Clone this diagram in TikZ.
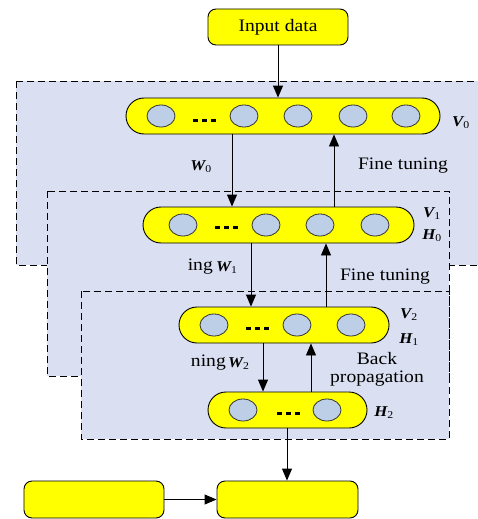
\documentclass[tikz,border=0pt]{standalone}
\usepackage{fontspec}
\setmainfont{Liberation Serif}[FakeStretch=1.12]
\usetikzlibrary{arrows.meta,shapes.geometric}
\definecolor{panel}{HTML}{DAE0F2}
\definecolor{unitfill}{HTML}{BCCFE6}
\definecolor{layerfill}{HTML}{FFFF00}
\tikzset{
  panelbox/.style={draw=black, dash pattern=on 7pt off 4pt, fill=panel, line width=0.8pt},
  pill/.style={draw=black, fill=layerfill, line width=0.9pt, rounded corners=18pt, minimum height=36pt, inner sep=0pt},
  unit/.style={ellipse, draw=black!80, fill=unitfill, line width=0.8pt, minimum width=28pt, minimum height=22pt, inner sep=0pt},
  ellip/.style={line width=2.6pt, dash pattern=on 5pt off 4pt},
  arr/.style={-{Triangle[length=12pt,width=10pt]}, line width=0.9pt},
  lbl/.style={font=\fontsize{17.5}{19}\selectfont, inner sep=0pt},
  sym/.style={font=\fontsize{15}{16}\selectfont\bfseries\itshape, inner sep=0pt},
  blockbox/.style={draw=black, fill=layerfill, line width=0.9pt, rounded corners=8pt, inner sep=0pt}
}
\newcommand{\lsub}[2]{#1\textsubscript{\upshape\mdseries #2}}
\begin{document}
\begin{tikzpicture}[x=1pt,y=-1pt]
\useasboundingbox (0,0) rectangle (478,519);
\begin{scope}
\clip (0,0) rectangle (478,519);
% nested training panels
\draw[panelbox] (16,81) rectangle (490,265);
\draw[panelbox] (47,191) rectangle (449,376);
\draw[panelbox] (81,291) rectangle (449,439);
\end{scope}

% input block
\node[blockbox, minimum width=140pt, minimum height=36pt, font=\fontsize{17.5}{19}\selectfont] (in) at (278,27) {Input data};

% layer V0
\node[pill, minimum width=314pt] (v0) at (283,116) {};
\foreach \x/\n in {161/a,244/b,298/c,353/d,406/e} \node[unit] (v0\n) at (\x,116) {};
\draw[ellip] (193,120.5) -- (219,120.5);
\node[sym] (v0lab) at (461,123) {\lsub{V}{0}};

% layer V1 / H0
\node[pill, minimum width=271pt] (v1) at (278.5,225) {};
\foreach \x/\n in {183/a,266/b,320/c,375/d} \node[unit] (v1\n) at (\x,225) {};
\draw[ellip] (215,227.5) -- (241,227.5);
\node[sym] (v1lab) at (432,214) {\lsub{V}{1}};
\node[sym] (h0lab) at (432,236) {\lsub{H}{0}};

% layer V2 / H1
\node[pill, minimum width=210pt] (v2) at (284,325) {};
\foreach \x/\n in {214/a,297/b,351/c} \node[unit] (v2\n) at (\x,325) {};
\draw[ellip] (246,328.5) -- (272,328.5);
\node[sym] (v2lab) at (409,315) {\lsub{V}{2}};
\node[sym] (h1lab) at (409,340) {\lsub{H}{1}};

% layer H2
\node[pill, minimum width=159pt] (h2) at (287.5,410) {};
\foreach \x/\n in {243/a,327/b} \node[unit] (h2\n) at (\x,410) {};
\draw[ellip] (277,413.5) -- (303,413.5);
\node[sym] (h2lab) at (384,413) {\lsub{H}{2}};

% output blocks
\node[blockbox, minimum width=140pt, minimum height=37pt] (outa) at (94,499.5) {};
\node[blockbox, minimum width=141pt, minimum height=37pt] (outb) at (287.5,499.5) {};

% column positions of the connectors
\coordinate (cin) at (278,0);
\coordinate (d0) at (232,0);
\coordinate (u0) at (334,0);
\coordinate (d1) at (251,0);
\coordinate (u1) at (326,0);
\coordinate (d2) at (263,0);
\coordinate (u2) at (311,0);
\coordinate (cout) at (287,0);

\draw[arr] (in.south) -- (v0.north -| cin);
\draw[arr] (v0.south -| d0) -- (v1.north -| d0);
\draw[arr] (v1.north -| u0) -- (v0.south -| u0);
\draw[arr] (v1.south -| d1) -- (v2.north -| d1);
\draw[arr] (v2.north -| u1) -- (v1.south -| u1);
\draw[arr] (v2.south -| d2) -- (h2.north -| d2);
\draw[arr] (h2.north -| u2) -- (v2.south -| u2);
\draw[arr] (h2.south -| cout) -- (outb.north -| cout);
\draw[arr] (outa.east) -- (outb.west);

% connector labels
\node[sym] (w0lab) at (201,167) {\lsub{W}{0}};
\node[lbl] (ft0) at (403,166) {Fine tuning};
\node[lbl, anchor=east] (pt1) at (213,267) {ing};
\node[sym, anchor=west] (w1lab) at (216,268) {\lsub{W}{1}};
\node[lbl] (ft1) at (385,277) {Fine tuning};
\node[lbl, anchor=east] (pt2) at (226,363) {ning};
\node[sym, anchor=west] (w2lab) at (228,364) {\lsub{W}{2}};
\node[lbl] (bp1) at (377,359) {Back};
\node[lbl] (bp2) at (377,379) {propagation};
\end{tikzpicture}
\end{document}
